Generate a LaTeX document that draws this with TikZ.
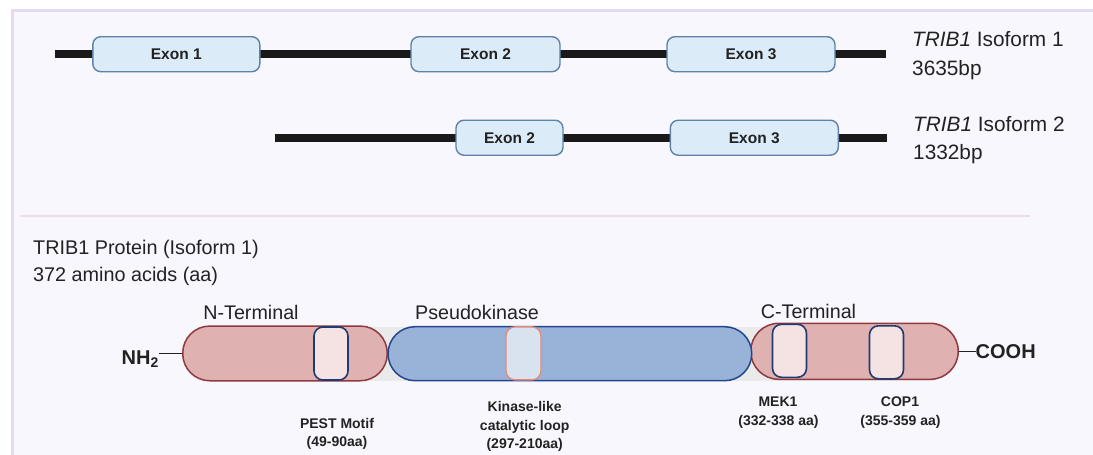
\documentclass[tikz,border=0pt]{standalone}
\usepackage{fontspec}
\setmainfont{Liberation Sans}
\definecolor{panelbg}{HTML}{F8F7FD}
\definecolor{panelbd}{HTML}{E6DAF3}
\definecolor{divcol}{HTML}{F0DCE8}
\definecolor{exonfill}{HTML}{DCEBF8}
\definecolor{exonline}{HTML}{5E82A8}
\definecolor{genecol}{HTML}{1A1A1A}
\definecolor{redfill}{HTML}{DFB1B1}
\definecolor{redline}{HTML}{8E3A3F}
\definecolor{bluefill}{HTML}{99B3D8}
\definecolor{blueline}{HTML}{23478F}
\definecolor{motiffill}{HTML}{F5E2E2}
\definecolor{motifline}{HTML}{1F3B70}
\definecolor{loopfill}{HTML}{D9E3F0}
\definecolor{loopline}{HTML}{E08A7C}
\definecolor{bandcol}{HTML}{EAEAEA}
\definecolor{txt}{HTML}{222222}
\newcommand{\fs}[1]{\fontsize{#1}{#1}\selectfont}
\begin{document}
\begin{tikzpicture}[x=1pt,y=-1pt,
  gene/.style={draw=genecol,line width=8pt},
  exon/.style={draw=exonline,fill=exonfill,line width=1.4pt,rounded corners=8pt,
    minimum height=35pt,inner sep=0pt,font=\bfseries\fs{15.5},text=txt},
  capsule/.style={line width=1.5pt,rounded corners=27pt,minimum height=55pt,inner sep=0pt},
  redcap/.style={capsule,draw=redline,fill=redfill},
  bluecap/.style={capsule,draw=blueline,fill=bluefill},
  motif/.style={draw=motifline,fill=motiffill,line width=1.6pt,rounded corners=9pt,
    minimum width=34pt,minimum height=53pt,inner sep=0pt},
  loopbox/.style={draw=loopline,fill=loopfill,line width=1.4pt,rounded corners=9pt,
    minimum width=35pt,minimum height=53pt,inner sep=0pt},
  domlabel/.style={font=\fs{19.7},text=txt,inner sep=0pt,anchor=base},
  sitelabel/.style={font=\bfseries\fs{14},text=txt,inner sep=0pt,anchor=base},
  isolabel/.style={font=\fs{20.8},text=txt,anchor=base west,inner sep=0pt},
  titlelabel/.style={font=\fs{19.8},text=txt,anchor=base west,inner sep=0pt},
  endlabel/.style={font=\bfseries\fs{20},text=txt,inner sep=0pt}
]
\useasboundingbox (0,0) rectangle (1093,455);
\fill[white] (0,0) rectangle (1093,455);
\fill[panelbg] (12,10) rectangle (1093,455);
\draw[panelbd,line width=3pt] (12,455) -- (12,10) -- (1093,10);
\draw[divcol,line width=1.5pt] (20,216) -- (1030,216);

% Isoform 1
\coordinate (g1s) at (55,54);
\coordinate (g1e) at (886,54);
\draw[gene] (g1s) -- (g1e);
\node[exon,minimum width=167pt] (e11) at (176.3,54.2) {Exon 1};
\node[exon,minimum width=149pt] (e12) at (485.5,54.2) {Exon 2};
\node[exon,minimum width=168pt] (e13) at (751,54.2) {Exon 3};
\node[isolabel] (iso1a) at (912,46.7) {\textit{TRIB1} Isoform 1};
\node[isolabel] (iso1b) at (912,75) {3635bp};

% Isoform 2
\coordinate (g2s) at (274.6,137.5);
\coordinate (g2e) at (887,137.5);
\draw[gene] (g2s) -- (g2e);
\node[exon,minimum width=107pt] (e22) at (509.5,137.7) {Exon 2};
\node[exon,minimum width=168pt] (e23) at (754.3,137.7) {Exon 3};
\node[isolabel] (iso2a) at (913,131) {\textit{TRIB1} Isoform 2};
\node[isolabel] (iso2b) at (913,159) {1332bp};

% Protein title
\node[titlelabel] (pt1) at (33,254.3) {TRIB1 Protein (Isoform 1)};
\node[titlelabel] (pt2) at (33,281.7) {372 amino acids (aa)};

% Protein bar
\fill[bandcol] (230,327) rectangle (935,380.5);
\node[redcap,minimum width=204.5pt,minimum height=54.7pt] (nterm) at (285,353.4) {};
\node[redcap,minimum width=207.5pt,minimum height=56pt,rounded corners=28pt] (cterm) at (854.5,351.3) {};
\node[bluecap,minimum width=363.7pt,minimum height=54pt] (pk) at (569.9,353.7) {};
\node[motif] (pest) at (331,353.5) {};
\node[loopbox] (loop) at (523.5,353.4) {};
\node[motif] (mek) at (789.5,350.8) {};
\node[motif] (cop) at (886.5,352.3) {};

\node[endlabel,anchor=base east] (nh2) at (159,364.5) {NH\textsubscript{2}};
\draw[txt,line width=1pt] (nh2.east |- nterm.west) -- (nterm.west);
\node[endlabel,anchor=base west] (cooh) at (975.5,358.8) {COOH};
\draw[txt,line width=1pt] (cterm.east) -- (cterm.east -| cooh.west);

\node[domlabel] (ntl) at (251,319) {N-Terminal};
\node[domlabel] (pkl) at (477,319.3) {Pseudokinase};
\node[domlabel] (ctl) at (808.5,318) {C-Terminal};

\node[sitelabel] (pest1) at (337,428.3) {PEST Motif};
\node[sitelabel] (pest2) at (337,446.5) {(49-90aa)};
\node[sitelabel] (loop1) at (524.7,411.7) {Kinase-like};
\node[sitelabel] (loop2) at (524.7,430.5) {catalytic loop};
\node[sitelabel] (loop3) at (524.7,448.5) {(297-210aa)};
\node[sitelabel] (mek1) at (778,406) {MEK1};
\node[sitelabel] (mek2) at (778.5,425) {(332-338 aa)};
\node[sitelabel] (cop1) at (900,406) {COP1};
\node[sitelabel] (cop2) at (900.5,425) {(355-359 aa)};
\end{tikzpicture}
\end{document}
